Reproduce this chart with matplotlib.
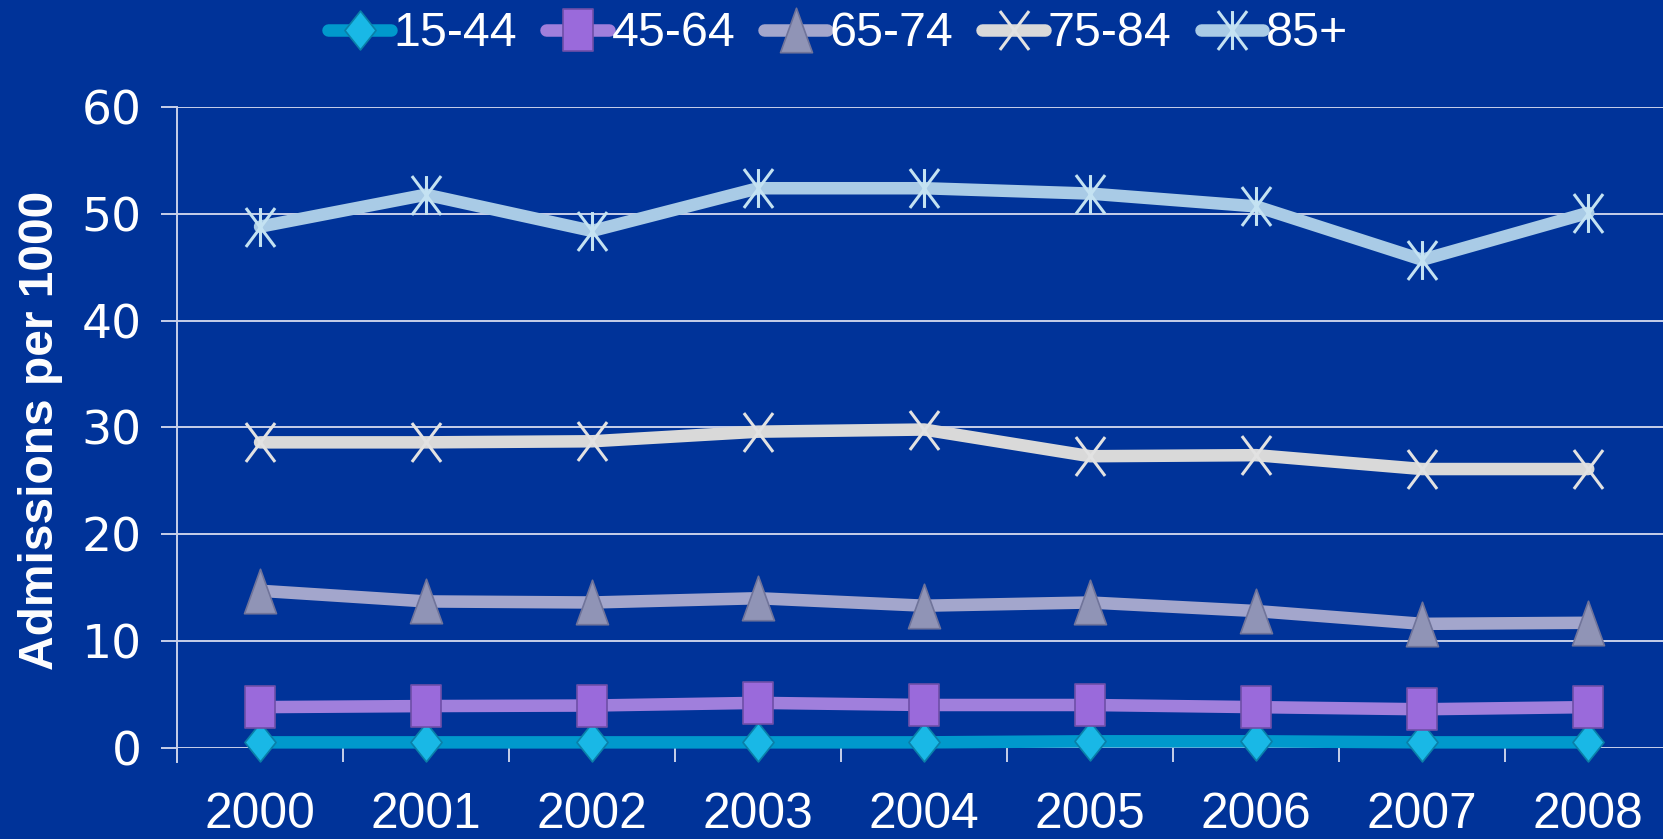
import matplotlib
matplotlib.use("Agg")
import matplotlib.pyplot as plt
from matplotlib.path import Path
from matplotlib import font_manager
import numpy as np

years = ["2000", "2001", "2002", "2003", "2004", "2005", "2006", "2007", "2008"]
series_names = ["15-44", "45-64", "65-74", "75-84", "85+"]
v_15_44 = [0.5, 0.5, 0.5, 0.5, 0.5, 0.6, 0.6, 0.5, 0.5]
v_45_64 = [3.8, 3.9, 3.95, 4.2, 4.0, 4.0, 3.8, 3.6, 3.8]
v_65_74 = [14.7, 13.7, 13.6, 14.0, 13.3, 13.6, 12.8, 11.6, 11.7]
v_75_84 = [28.6, 28.6, 28.7, 29.6, 29.8, 27.3, 27.4, 26.1, 26.1]
v_85p = [48.8, 51.8, 48.4, 52.4, 52.4, 51.9, 50.7, 45.7, 50.1]
y_ticks = [0, 10, 20, 30, 40, 50, 60]

names = {f.name for f in font_manager.fontManager.ttflist}
narrow = "Liberation Sans Narrow" if "Liberation Sans Narrow" in names else "Liberation Sans"
nscale = 1.0 if narrow == "Liberation Sans Narrow" else 0.85

BG = "#003399"
GRID = "#C8D0EA"

# custom markers
diamond = Path([(0, 1), (0.8, 0), (0, -1), (-0.8, 0), (0, 1)],
               [Path.MOVETO, Path.LINETO, Path.LINETO, Path.LINETO, Path.CLOSEPOLY])
rect = Path([(-0.7, -1), (0.7, -1), (0.7, 1), (-0.7, 1), (-0.7, -1)],
            [Path.MOVETO, Path.LINETO, Path.LINETO, Path.LINETO, Path.CLOSEPOLY])
tri = Path([(-0.72, -1), (0.72, -1), (0, 1), (-0.72, -1)],
           [Path.MOVETO, Path.LINETO, Path.LINETO, Path.CLOSEPOLY])
xmark = Path([(-0.75, -1), (0.75, 1), (-0.75, 1), (0.75, -1)],
             [Path.MOVETO, Path.LINETO, Path.MOVETO, Path.LINETO])
astmark = Path([(-0.75, -1), (0.75, 1), (-0.75, 1), (0.75, -1), (0, -1), (0, 1)],
               [Path.MOVETO, Path.LINETO, Path.MOVETO, Path.LINETO, Path.MOVETO, Path.LINETO])

fig = plt.figure(figsize=(16.63, 8.39), dpi=100, facecolor=BG)
ax = fig.add_axes([177 / 1663, 91.3 / 839, 1 - 177 / 1663, 640.6 / 839])
ax.set_facecolor("none")

x = np.arange(len(years))
styles = [
    (v_15_44, "#0099CC", diamond, "#19B8E6", "#0A7FA8", 28, 1.2),
    (v_45_64, "#A07FDC", rect, "#9A6ADB", "#6E4FA8", 30, 1.2),
    (v_65_74, "#A3A6CC", tri, "#9094B6", "#70749A", 32, 1.2),
    (v_75_84, "#D9D9D9", xmark, "none", "#E2E2E2", 28, 2.2),
    (v_85p, "#A9CBE6", astmark, "none", "#C4E2F2", 28, 2.2),
]
for i, (vals, lc, mk, mfc, mec, ms, mew) in enumerate(styles):
    ax.plot(x, vals, color=lc, lw=9, marker=mk, markersize=ms,
            markerfacecolor=mfc, markeredgecolor=mec, markeredgewidth=mew,
            solid_capstyle="round", solid_joinstyle="round",
            label=series_names[i], clip_on=False, zorder=3 + i)

ax.set_xlim(-0.5, 8.45)
ax.set_ylim(0, 60)
ax.set_yticks(y_ticks)
ax.set_yticklabels([str(t) for t in y_ticks], family="DejaVu Sans", fontsize=34, color="white")
ax.yaxis.grid(True, color=GRID, lw=1.4)
ax.set_axisbelow(True)
ax.tick_params(axis="y", length=11.5, width=1.4, color=GRID, pad=14)

ax.set_xticks(x)
ax.set_xticklabels(years, family=narrow, fontsize=42 * nscale, color="white")
ax.set_xticks(np.arange(-0.5, 8.0, 1.0), minor=True)
ax.tick_params(axis="x", which="major", length=0, pad=32)
ax.tick_params(axis="x", which="minor", length=10, width=1.4, color=GRID, direction="out")

for s in ["top", "right", "bottom"]:
    ax.spines[s].set_visible(False)
ax.spines["left"].set_color(GRID)
ax.spines["left"].set_linewidth(1.4)
ax.spines["left"].set_bounds(-1.3, 60)

fig.text(41 / 1663, 1 - 430 / 839, "Admissions per 1000", rotation=90, ha="center", va="center",
         family="Liberation Sans", fontweight="bold", fontsize=34.5, color="white")

leg = fig.legend(loc="center", bbox_to_anchor=(0.504, 1 - 34 / 839), ncol=5, frameon=False,
                 handlelength=1.3, handletextpad=0.05, columnspacing=0.6,
                 prop={"family": narrow, "size": 41 * nscale})
for t in leg.get_texts():
    t.set_color("white")

fig.savefig("out.png", dpi=100, facecolor=BG)
